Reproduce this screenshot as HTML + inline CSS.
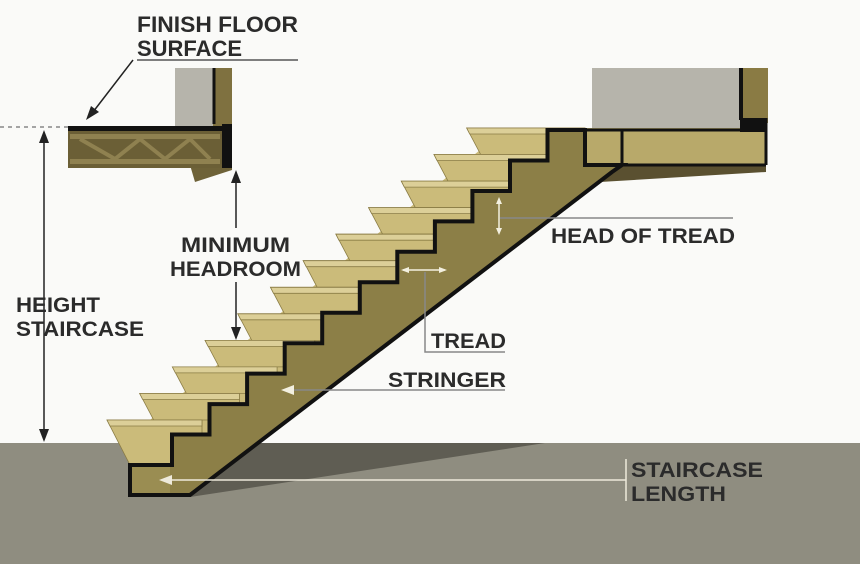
<!DOCTYPE html>
<html><head><meta charset="utf-8"><style>
html,body{margin:0;padding:0;background:#fafaf8;}
svg{display:block}
text{font-family:"Liberation Sans",sans-serif;font-weight:bold;fill:#2b2b2b;}
</style></head><body>
<svg width="860" height="564" viewBox="0 0 860 564" xmlns="http://www.w3.org/2000/svg">
<rect width="860" height="564" fill="#fafaf8"/>
<!-- floor -->
<rect x="0" y="443" width="860" height="121" fill="#8f8d80"/>
<polygon points="150,443 545,443 190,497" fill="#5f5d53"/>
<!-- right landing -->
<rect x="592" y="68" width="150" height="62" fill="#b6b4ab"/>
<rect x="740" y="68" width="28" height="55" fill="#8a7b44"/>
<line x1="741" y1="68" x2="741" y2="120" stroke="#111" stroke-width="4"/>
<polygon points="612,165 766,165 766,172 600,182" fill="#5a5030"/>
<rect x="585" y="128" width="181" height="38" fill="#b8a96a"/>
<rect x="740" y="118" width="26" height="14" fill="#111"/>
<path d="M585,130 L740,130 M622,130 L622,165 M585,165 L766,165 M766,118 L766,165" stroke="#111" stroke-width="3" fill="none"/>
<!-- left floor -->
<rect x="175" y="68" width="40" height="60" fill="#b6b4ab"/>
<rect x="213" y="68" width="19" height="102" fill="#7f7140"/>
<line x1="214" y1="68" x2="214" y2="124" stroke="#111" stroke-width="3"/>
<polygon points="190,165 232,165 232,170 195,182" fill="#6e6238"/>
<rect x="68" y="128" width="164" height="40" fill="#6b5f36"/>
<rect x="68" y="126" width="164" height="5" fill="#111"/>
<rect x="70" y="134" width="150" height="5" fill="#8f8150"/>
<rect x="70" y="159" width="150" height="5" fill="#8f8150"/>
<path d="M80,139 L115,159 L140,139 L165,159 L190,139 L210,159" stroke="#8f8150" stroke-width="4" fill="none"/>
<rect x="222" y="124" width="10" height="44" fill="#111"/>
<line x1="0" y1="127" x2="68" y2="127" stroke="#888" stroke-width="1.5" stroke-dasharray="4,4"/>
<!-- backing fill -->
<polygon points="130,465 150,420 480,150 585,128 585,165 612,172 190,495 130,495" fill="#cbbb7a"/>
<!-- steps (top to bottom) -->
<g stroke="#8a7c45" stroke-width="0.8">
<polygon points="466.7,128 585,128 585,154.5 480.7,154.5" fill="#cbbb7a"/><polygon points="466.7,128 585,128 585,134 469.7,134" fill="#dccf98"/>
<polygon points="434,154.5 577.5,154.5 577.5,181.1 448,181.1" fill="#cbbb7a"/><polygon points="434,154.5 577.5,154.5 577.5,160.5 437,160.5" fill="#dccf98"/>
<polygon points="401.3,181.1 540,181.1 540,207.6 415.3,207.6" fill="#cbbb7a"/><polygon points="401.3,181.1 540,181.1 540,187.1 404.3,187.1" fill="#dccf98"/>
<polygon points="368.6,207.6 502.4,207.6 502.4,234.2 382.6,234.2" fill="#cbbb7a"/><polygon points="368.6,207.6 502.4,207.6 502.4,213.6 371.6,213.6" fill="#dccf98"/>
<polygon points="335.9,234.2 464.9,234.2 464.9,260.7 349.9,260.7" fill="#cbbb7a"/><polygon points="335.9,234.2 464.9,234.2 464.9,240.2 338.9,240.2" fill="#dccf98"/>
<polygon points="303.2,260.7 427.3,260.7 427.3,287.3 317.2,287.3" fill="#cbbb7a"/><polygon points="303.2,260.7 427.3,260.7 427.3,266.7 306.2,266.7" fill="#dccf98"/>
<polygon points="270.5,287.3 389.8,287.3 389.8,313.8 284.5,313.8" fill="#cbbb7a"/><polygon points="270.5,287.3 389.8,287.3 389.8,293.3 273.5,293.3" fill="#dccf98"/>
<polygon points="237.8,313.8 352.2,313.8 352.2,340.4 251.8,340.4" fill="#cbbb7a"/><polygon points="237.8,313.8 352.2,313.8 352.2,319.8 240.8,319.8" fill="#dccf98"/>
<polygon points="205.1,340.4 314.7,340.4 314.7,366.9 219.1,366.9" fill="#cbbb7a"/><polygon points="205.1,340.4 314.7,340.4 314.7,346.4 208.1,346.4" fill="#dccf98"/>
<polygon points="172.4,366.9 277.1,366.9 277.1,393.5 186.4,393.5" fill="#cbbb7a"/><polygon points="172.4,366.9 277.1,366.9 277.1,372.9 175.4,372.9" fill="#dccf98"/>
<polygon points="139.7,393.5 239.5,393.5 239.5,420 153.7,420" fill="#cbbb7a"/><polygon points="139.7,393.5 239.5,393.5 239.5,399.5 142.7,399.5" fill="#dccf98"/>
<polygon points="107,420 202,420 202,465 130,465" fill="#cbbb7a"/><polygon points="107,420 202,420 202,426 110,426" fill="#dccf98"/>
</g>
<!-- stringer -->
<path d="M130,495 L130,465 L172,465 L172,434.5 L209.5,434.5 L209.5,404.1 L247.1,404.1 L247.1,373.6 L284.7,373.6 L284.7,343.2 L322.2,343.2 L322.2,312.7 L359.8,312.7 L359.8,282.3 L397.3,282.3 L397.3,251.8 L434.9,251.8 L434.9,221.4 L472.4,221.4 L472.4,191 L510,191 L510,160.5 L547.5,160.5 L547.5,130 L585,130 L585,165 L622,165 L612,172 L190,495 Z" fill="#8c7f47" stroke="#111" stroke-width="4" stroke-linejoin="miter"/>
<rect x="132" y="467" width="38" height="26" fill="#9a8d52"/>
<!-- HEIGHT arrow -->
<line x1="44" y1="140" x2="44" y2="432" stroke="#222" stroke-width="1.5"/>
<polygon points="44,130 39,143 49,143" fill="#222"/>
<polygon points="44,442 39,429 49,429" fill="#222"/>
<!-- headroom arrows -->
<line x1="236" y1="180" x2="236" y2="228" stroke="#222" stroke-width="1.5"/>
<polygon points="236,170 231,183 241,183" fill="#222"/>
<line x1="236" y1="282" x2="236" y2="330" stroke="#222" stroke-width="1.5"/>
<polygon points="236,340 231,327 241,327" fill="#222"/>
<!-- finish floor -->
<line x1="137" y1="60" x2="298" y2="60" stroke="#555" stroke-width="1.5"/>
<line x1="133" y1="60" x2="93" y2="112" stroke="#222" stroke-width="1.5"/>
<polygon points="86,120 91,106 99,112" fill="#222"/>
<!-- head of tread -->
<line x1="500" y1="218" x2="733" y2="218" stroke="#888" stroke-width="1.5"/>
<line x1="499" y1="200" x2="499" y2="232" stroke="#f3f0e0" stroke-width="1.5"/>
<polygon points="499,197 496,204 502,204" fill="#f3f0e0"/><polygon points="499,235 496,228 502,228" fill="#f3f0e0"/>
<!-- tread -->
<line x1="403" y1="270" x2="445" y2="270" stroke="#f3f0e0" stroke-width="1.5"/>
<polygon points="401,270 409,267 409,273" fill="#f3f0e0"/><polygon points="447,270 439,267 439,273" fill="#f3f0e0"/>
<polyline points="425,272 425,352 505,352" stroke="#888" stroke-width="1.5" fill="none"/>
<!-- stringer label -->
<line x1="290" y1="390" x2="505" y2="390" stroke="#888" stroke-width="1.5"/>
<polygon points="281,390 294,385 294,395" fill="#f3f0e0"/>
<!-- length -->
<line x1="168" y1="480" x2="626" y2="480" stroke="#eeeadb" stroke-width="1.5"/>
<polygon points="159,480 172,475 172,485" fill="#eeeadb"/>
<line x1="626" y1="459" x2="626" y2="501" stroke="#eeeadb" stroke-width="1.5"/>
<!-- texts -->
<text x="137" y="32" font-size="22" textLength="161" lengthAdjust="spacingAndGlyphs">FINISH FLOOR</text>
<text x="137" y="56" font-size="22" textLength="105" lengthAdjust="spacingAndGlyphs">SURFACE</text>
<text x="181" y="252" font-size="21" textLength="109" lengthAdjust="spacingAndGlyphs">MINIMUM</text>
<text x="170" y="276" font-size="21" textLength="131" lengthAdjust="spacingAndGlyphs">HEADROOM</text>
<text x="16" y="312" font-size="21" textLength="84" lengthAdjust="spacingAndGlyphs">HEIGHT</text>
<text x="16" y="336" font-size="21" textLength="128" lengthAdjust="spacingAndGlyphs">STAIRCASE</text>
<text x="551" y="243" font-size="21" textLength="184" lengthAdjust="spacingAndGlyphs">HEAD OF TREAD</text>
<text x="431" y="348" font-size="21" textLength="75" lengthAdjust="spacingAndGlyphs">TREAD</text>
<text x="388" y="387" font-size="21" textLength="118" lengthAdjust="spacingAndGlyphs">STRINGER</text>
<text x="631" y="477" font-size="21" textLength="132" lengthAdjust="spacingAndGlyphs">STAIRCASE</text>
<text x="631" y="501" font-size="21" textLength="95" lengthAdjust="spacingAndGlyphs">LENGTH</text>
</svg>
</body></html>
